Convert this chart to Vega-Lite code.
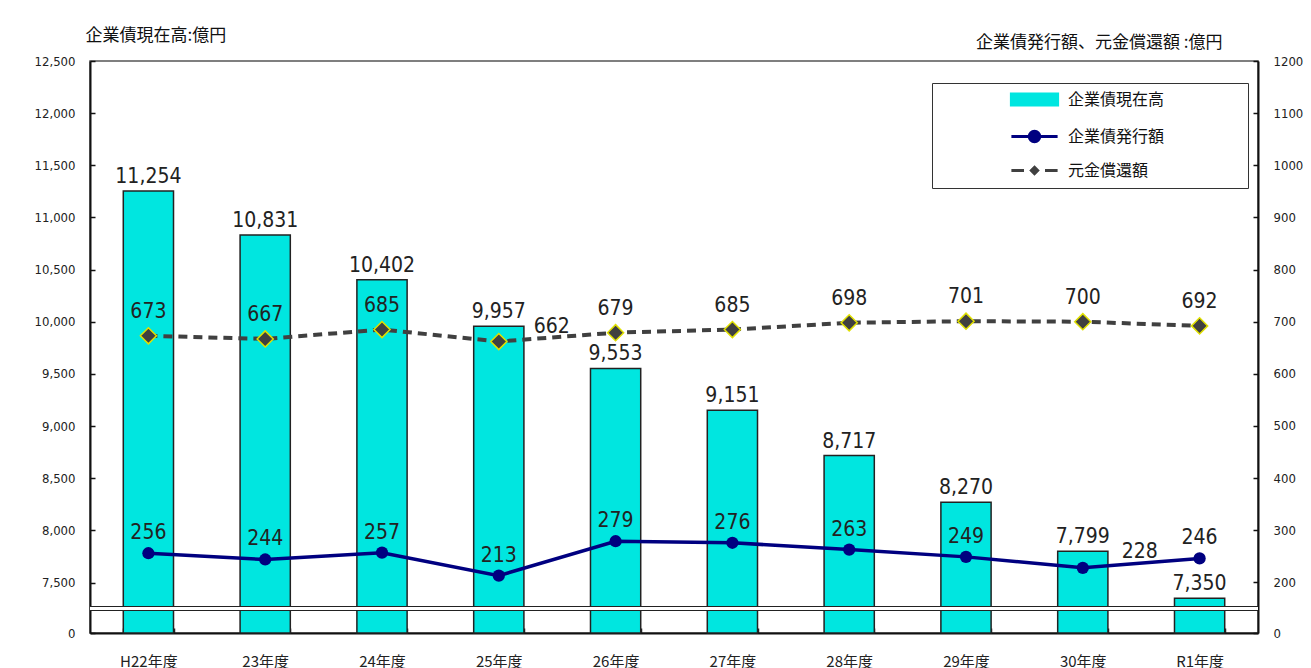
{
  "$schema": "https://vega.github.io/schema/vega-lite/v6.json",
  "width": 1168,
  "height": 572,
  "autosize": {"type": "none"},
  "padding": {"left": 90, "top": 61, "right": 53, "bottom": 35},
  "background": "white",
  "data": {"values": [
    {"year": "H22年度", "balance": 11254, "issue": 256, "repay": 673},
    {"year": "23年度", "balance": 10831, "issue": 244, "repay": 667},
    {"year": "24年度", "balance": 10402, "issue": 257, "repay": 685},
    {"year": "25年度", "balance": 9957, "issue": 213, "repay": 662},
    {"year": "26年度", "balance": 9553, "issue": 279, "repay": 679},
    {"year": "27年度", "balance": 9151, "issue": 276, "repay": 685},
    {"year": "28年度", "balance": 8717, "issue": 263, "repay": 698},
    {"year": "29年度", "balance": 8270, "issue": 249, "repay": 701},
    {"year": "30年度", "balance": 7799, "issue": 228, "repay": 700},
    {"year": "R1年度", "balance": 7350, "issue": 246, "repay": 692}
  ]},
  "layer": [
    {
      "layer": [
        {
          "mark": {"type": "bar", "stroke": "#222", "strokeWidth": 1.5},
          "encoding": {
            "x": {"field": "year", "type": "nominal", "sort": null,
              "scale": {"paddingInner": 0.57, "paddingOuter": 0.285},
              "axis": {"title": null, "labelAngle": 0, "tickBand": "extent", "tickSize": -5, "tickWidth": 1.5, "tickColor": "#222",
                "domainColor": "#111", "domainWidth": 2, "labelPadding": 26, "labelFont": "Noto Sans CJK JP", "labelFontSize": 15,
                "labelFontWeight": "normal", "labelColor": "#222"}},
            "y": {"field": "balance", "type": "quantitative",
              "scale": {"domain": [7016, 12500], "zero": false, "nice": false},
              "axis": {"orient": "left", "values": [7016, 7500, 8000, 8500, 9000, 9500, 10000, 10500, 11000, 11500, 12000, 12500],
                "labelExpr": "datum.value < 7100 ? '0' : format(datum.value, ',')",
                "grid": false, "domainColor": "#111", "domainWidth": 2, "tickColor": "#111", "tickWidth": 1.5, "tickSize": -5,
                "labelPadding": 20, "labelFont": "DejaVu Sans Condensed, Liberation Sans", "labelFontSize": 13, "labelColor": "#222",
                "title": "企業債現在高:億円", "titleAngle": 0, "titleAlign": "left", "titleBaseline": "middle",
                "titleX": -5, "titleY": -26, "titleFont": "Noto Sans CJK JP", "titleFontSize": 17, "titleFontWeight": "normal", "titleColor": "#111"}},
            "y2": {"datum": 7016},
            "color": {"datum": "企業債現在高", "type": "nominal",
              "scale": {"domain": ["企業債現在高", "企業債発行額", "元金償還額"], "range": ["#00E6E0", "#000080", "#404040"]},
              "legend": {"orient": "none", "legendX": 842, "legendY": 22, "title": null,
                "padding": 8, "symbolSize": 196, "symbolOffset": 86, "labelOffset": 25, "rowPadding": 13, "symbolStrokeWidth": 3,
                "labelFont": "Noto Sans CJK JP", "labelFontSize": 16, "labelColor": "#111", "labelLimit": 400, "strokeColor": "#333"}}
          }
        },
        {
          "mark": {"type": "text", "baseline": "alphabetic", "dy": -8, "font": "DejaVu Sans Condensed, Liberation Sans", "fontSize": 21, "color": "#222"},
          "encoding": {
            "x": {"field": "year", "type": "nominal", "sort": null},
            "y": {"field": "balance", "type": "quantitative"},
            "text": {"field": "balance", "type": "quantitative", "format": ","}
          }
        },
        {
          "data": {"values": [{}]},
          "mark": {"type": "rule", "color": "#222", "strokeWidth": 5},
          "encoding": {"y": {"datum": 7250, "type": "quantitative"}}
        },
        {
          "data": {"values": [{}]},
          "mark": {"type": "rule", "color": "white", "strokeWidth": 3},
          "encoding": {"y": {"datum": 7250, "type": "quantitative"}}
        }
      ]
    },
    {
      "layer": [
        {
          "mark": {"type": "line", "strokeWidth": 3.5},
          "encoding": {
            "x": {"field": "year", "type": "nominal", "sort": null},
            "y": {"field": "issue", "type": "quantitative",
              "scale": {"domain": [103, 1200], "zero": false, "nice": false},
              "axis": {"orient": "right", "values": [103, 200, 300, 400, 500, 600, 700, 800, 900, 1000, 1100, 1200],
                "labelExpr": "datum.value < 150 ? '0' : datum.value",
                "grid": false, "domainColor": "#111", "domainWidth": 2, "tickColor": "#111", "tickWidth": 1.5, "tickSize": -5,
                "labelPadding": 20, "labelFont": "DejaVu Sans Condensed, Liberation Sans", "labelFontSize": 13, "labelColor": "#222",
                "title": "企業債発行額、元金償還額 :億円", "titleAngle": 0, "titleAlign": "right", "titleBaseline": "middle",
                "titleX": -36, "titleY": -19, "titleFont": "Noto Sans CJK JP", "titleFontSize": 17, "titleFontWeight": "normal", "titleColor": "#111"}},
            "color": {"datum": "企業債発行額", "type": "nominal"}
          }
        },
        {
          "mark": {"type": "point", "shape": "circle", "filled": true, "size": 150, "color": "#000080", "opacity": 1},
          "encoding": {
            "x": {"field": "year", "type": "nominal", "sort": null},
            "y": {"field": "issue", "type": "quantitative"}
          }
        },
        {
          "mark": {"type": "line", "strokeWidth": 4, "strokeDash": [9, 6]},
          "encoding": {
            "x": {"field": "year", "type": "nominal", "sort": null},
            "y": {"field": "repay", "type": "quantitative"},
            "color": {"datum": "元金償還額", "type": "nominal"}
          }
        },
        {
          "mark": {"type": "point", "shape": "diamond", "filled": true, "size": 260, "fill": "#404040", "stroke": "#E0E000", "strokeWidth": 1.5, "opacity": 1},
          "encoding": {
            "x": {"field": "year", "type": "nominal", "sort": null},
            "y": {"field": "repay", "type": "quantitative"}
          }
        },
        {
          "transform": [{"filter": "false"}],
          "mark": {"type": "point", "filled": true, "opacity": 1, "strokeWidth": 3},
          "encoding": {
            "x": {"field": "year", "type": "nominal", "sort": null},
            "y": {"field": "issue", "type": "quantitative"},
            "color": {"datum": "企業債現在高", "type": "nominal",
              "legend": {"orient": "none", "legendX": 842, "legendY": 22, "title": null,
                "padding": 8, "symbolSize": 196, "symbolOffset": 86, "labelOffset": 25, "rowPadding": 13, "symbolStrokeWidth": 3,
                "labelFont": "Noto Sans CJK JP", "labelFontSize": 16, "labelColor": "#111", "labelLimit": 400, "strokeColor": "#333"}},
            "shape": {"datum": "企業債現在高", "type": "nominal",
              "scale": {"domain": ["企業債現在高", "企業債発行額", "元金償還額"],
                "range": ["M-3.3,-0.8H3.3V0.8H-3.3ZM28.5,0", "M-3.3,0H3.3M-0.75,0A0.75,0.75 0 1,0 0.75,0A0.75,0.75 0 1,0 -0.75,0ZM28.5,0", "M-3.3,0H-1.5M1.5,0H3.3M0,-0.45L0.45,0L0,0.45L-0.45,0ZM28.5,0"]},
              "legend": {"orient": "none", "legendX": 842, "legendY": 22, "title": null,
                "padding": 8, "symbolSize": 196, "symbolOffset": 86, "labelOffset": 25, "rowPadding": 13, "symbolStrokeWidth": 3,
                "labelFont": "Noto Sans CJK JP", "labelFontSize": 16, "labelColor": "#111", "labelLimit": 400, "strokeColor": "#333"}},
            "stroke": {"datum": "企業債現在高", "type": "nominal",
              "scale": {"domain": ["企業債現在高", "企業債発行額", "元金償還額"], "range": ["#222222", "#000080", "#555555"]},
              "legend": {"orient": "none", "legendX": 842, "legendY": 22, "title": null,
                "padding": 8, "symbolSize": 196, "symbolOffset": 86, "labelOffset": 25, "rowPadding": 13, "symbolStrokeWidth": 3,
                "labelFont": "Noto Sans CJK JP", "labelFontSize": 16, "labelColor": "#111", "labelLimit": 400, "strokeColor": "#333"}}
          }
        },
        {
          "transform": [{"filter": "datum.year !== '30年度'"}],
          "mark": {"type": "text", "baseline": "alphabetic", "dy": -14, "font": "DejaVu Sans Condensed, Liberation Sans", "fontSize": 21, "color": "#222"},
          "encoding": {
            "x": {"field": "year", "type": "nominal", "sort": null},
            "y": {"field": "issue", "type": "quantitative"},
            "text": {"field": "issue", "type": "quantitative"}
          }
        },
        {
          "transform": [{"filter": "datum.year === '30年度'"}],
          "mark": {"type": "text", "baseline": "alphabetic", "dx": 57, "dy": -10, "font": "DejaVu Sans Condensed, Liberation Sans", "fontSize": 21, "color": "#222"},
          "encoding": {
            "x": {"field": "year", "type": "nominal", "sort": null},
            "y": {"field": "issue", "type": "quantitative"},
            "text": {"field": "issue", "type": "quantitative"}
          }
        },
        {
          "transform": [{"filter": "datum.year !== '25年度'"}],
          "mark": {"type": "text", "baseline": "alphabetic", "dy": -18, "font": "DejaVu Sans Condensed, Liberation Sans", "fontSize": 21, "color": "#222"},
          "encoding": {
            "x": {"field": "year", "type": "nominal", "sort": null},
            "y": {"field": "repay", "type": "quantitative"},
            "text": {"field": "repay", "type": "quantitative"}
          }
        },
        {
          "transform": [{"filter": "datum.year === '25年度'"}],
          "mark": {"type": "text", "baseline": "alphabetic", "dx": 53, "dy": -9, "font": "DejaVu Sans Condensed, Liberation Sans", "fontSize": 21, "color": "#222"},
          "encoding": {
            "x": {"field": "year", "type": "nominal", "sort": null},
            "y": {"field": "repay", "type": "quantitative"},
            "text": {"field": "repay", "type": "quantitative"}
          }
        }
      ]
    }
  ],
  "resolve": {"scale": {"y": "independent"}},
  "config": {
    "font": "Noto Sans CJK JP",
    "view": {"stroke": "#555", "strokeWidth": 1.5}
  }
}
